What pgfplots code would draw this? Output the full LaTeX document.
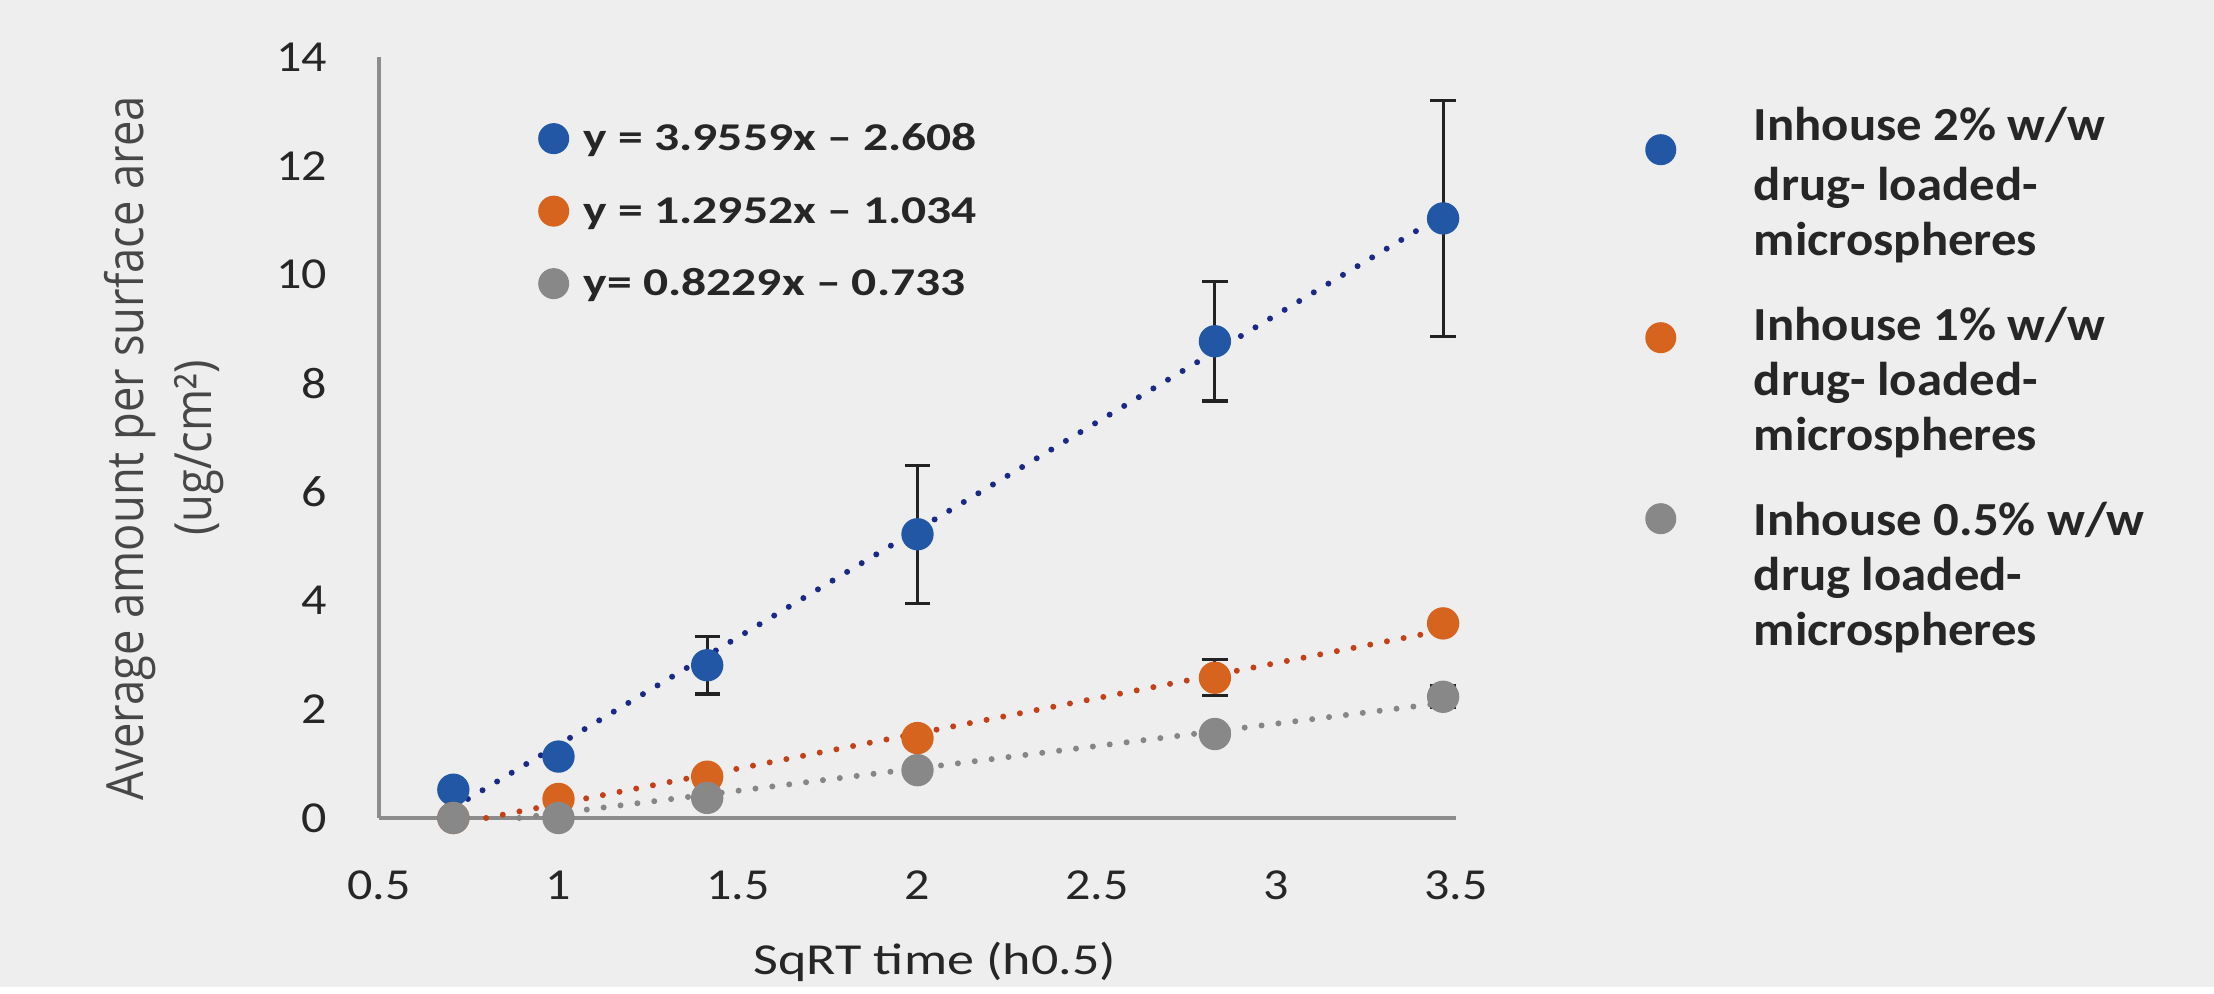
\documentclass[border=0pt]{standalone}
\usepackage{fontspec}
\setmainfont{Carlito}
\newfontfamily\tickfont{Carlito}[FakeStretch=1.13]
\newfontfamily\xlfont{Carlito}[FakeStretch=1.22]
\newfontfamily\ylfont{Open Sans}[FakeStretch=0.883]
\newfontfamily\eqfont{Carlito}[FakeStretch=1.26]
\newfontfamily\lgfont{Carlito}[FakeStretch=1.07]
\usepackage{pgfplots}
\pgfplotsset{compat=1.18}

\definecolor{bg}{HTML}{EEEEEE}
\definecolor{cB}{HTML}{2257A5}
\definecolor{cO}{HTML}{D6641E}
\definecolor{cG}{HTML}{888888}
\definecolor{tB}{HTML}{1A2A84}
\definecolor{tO}{HTML}{C2401A}
\definecolor{tG}{HTML}{868686}
\definecolor{axc}{HTML}{8C8C8C}
\definecolor{txt}{HTML}{262626}
\definecolor{errc}{HTML}{222222}

\pgfplotsset{
  dot/.style={forget plot, only marks, mark=*, mark size=4.4pt,
    mark options={fill=#1, draw=#1}},
  ebar/.style={forget plot, draw=none, mark=none,
    error bars/.cd, y dir=both, y explicit,
    error bar style={draw=errc, line width=0.9pt},
    error mark options={rotate=90, mark size=3.6pt, line width=0.9pt, draw=errc}},
  trend/.style={forget plot, draw=#1, line width=0.06cm, line cap=round,
    dash pattern=on 0pt off 0.17cm},
  % legend picture: circle of colour #1 raised by #2; the row reaches #3 above and #4 below the baseline
  circ/.style n args={4}{legend image code/.code={
    \path[draw=none, fill=none] (0,-#4) rectangle (0.6cm,#3);
    \fill[#1, draw=none] (0.3cm,#2) circle (0.155cm);}},
  gap/.style 2 args={legend image code/.code={
    \path[draw=none, fill=none] (0,-#2) rectangle (0.6cm,#1);}},
}

\begin{document}
\begin{tikzpicture}
\fill[bg] (-3.79,-1.69) rectangle (18.35,8.18);

\begin{axis}[
  at={(0,0)}, anchor=south west,
  scale only axis, width=10.77cm, height=7.61cm,
  xmin=0.5, xmax=3.5, ymin=0, ymax=14,
  clip=false,
  axis x line*=bottom, axis y line*=left,
  axis line style={draw=axc, line width=1pt, -},
  xtick={0.5,1,1.5,2,2.5,3,3.5},
  ytick={0,2,4,6,8,10,12,14},
  major tick length=0pt,
  /pgf/number format/assume math mode=true,
  tick label style={font=\tickfont\fontsize{12.6}{14}\selectfont, text=txt},
  xticklabel style={anchor=base, yshift=-0.82cm},
  yticklabel style={anchor=east, inner sep=0pt, xshift=-0.51cm},
  xlabel={SqRT time (h0.5)},
  xlabel style={font=\xlfont\fontsize{12.6}{14}\selectfont, text=txt,
    at={(axis description cs:0.516,-0.206)}, anchor=base},
  ylabel={Average amount per surface area\\(ug/cm²)},
  ylabel style={font=\ylfont\fontsize{14.6}{19.07}\selectfont, text=txt!85,
    align=center, inner sep=0pt,
    at={(axis description cs:-0.1996,0.486)}, anchor=center},
  legend style={at={(axis description cs:0.1337,0.937)}, anchor=north west,
    draw=none, fill=none, inner sep=0pt, column sep=0cm, row sep=0pt,
    cells={anchor=base west},
    nodes={inner sep=0pt, font=\eqfont\bfseries\fontsize{11.2}{13}\selectfont, text=txt}},
]

% data points
\addplot[dot=cB] coordinates {
  (0.7071,0.52) (1.0,1.13) (1.4142,2.81) (2.0,5.22) (2.8284,8.77) (3.4641,11.03)
};
\addplot[dot=cO] coordinates {
  (0.7071,0.0) (1.0,0.35) (1.4142,0.76) (2.0,1.47) (2.8284,2.58) (3.4641,3.58)
};
\addplot[dot=cG] coordinates {
  (0.7071,0.0) (1.0,0.0) (1.4142,0.37) (2.0,0.88) (2.8284,1.545) (3.4641,2.23)
};

% error bars
\addplot[ebar] coordinates {
  (1.4142,2.81) +- (0,0.53)
  (2.0,5.22) +- (0,1.27)
  (2.8284,8.77) +- (0,1.10)
  (3.4641,11.03) +- (0,2.17)
};
\addplot[ebar] coordinates {
  (2.8284,2.58) +- (0,0.33)
};
\addplot[ebar] coordinates {
  (3.4641,2.23) +- (0,0.20)
};

% linear trend lines
\addplot[trend=tB] coordinates {(0.7071,0.189) (3.4641,11.095)};
\addplot[trend=tO] coordinates {(0.7983,0.0) (3.4641,3.453)};
\addplot[trend=tG] coordinates {(0.8908,0.0) (3.4641,2.118)};

\addlegendimage{circ={cB}{0.12cm}{0.45cm}{0.2cm}}
\addlegendentry{y = 3.9559x – 2.608}
\addlegendimage{circ={cO}{0.12cm}{0.525cm}{0.2cm}}
\addlegendentry{y = 1.2952x – 1.034}
\addlegendimage{circ={cG}{0.12cm}{0.525cm}{0.2cm}}
\addlegendentry{y= 0.8229x – 0.733}
\end{axis}

% second legend, outside the plot
\begin{axis}[
  at={(0,0)}, anchor=south west,
  scale only axis, width=10.77cm, height=7.61cm,
  xmin=0.5, xmax=3.5, ymin=0, ymax=14,
  hide axis,
  legend style={at={(axis description cs:1.1616,0.9435)}, anchor=north west,
    draw=none, fill=none, inner sep=0pt, column sep=0.63cm, row sep=0pt,
    cells={anchor=base west},
    nodes={inner sep=0pt, font=\lgfont\bfseries\fontsize{13.5}{16}\selectfont, text=txt}},
]
\addlegendimage{circ={cB}{-0.09cm}{0.4cm}{0.25cm}}
\addlegendentry{Inhouse 2\% w/w}
\addlegendimage{gap={0.35cm}{0.2cm}}
\addlegendentry{drug- loaded-}
\addlegendimage{gap={0.35cm}{0.2cm}}
\addlegendentry{microspheres}
\addlegendimage{circ={cO}{0.03cm}{0.65cm}{0.2cm}}
\addlegendentry{Inhouse 1\% w/w}
\addlegendimage{gap={0.35cm}{0.2cm}}
\addlegendentry{drug- loaded-}
\addlegendimage{gap={0.35cm}{0.2cm}}
\addlegendentry{microspheres}
\addlegendimage{circ={cG}{0.17cm}{0.65cm}{0.2cm}}
\addlegendentry{Inhouse 0.5\% w/w}
\addlegendimage{gap={0.35cm}{0.2cm}}
\addlegendentry{drug loaded-}
\addlegendimage{gap={0.35cm}{0.2cm}}
\addlegendentry{microspheres}
\end{axis}
\end{tikzpicture}
\end{document}
